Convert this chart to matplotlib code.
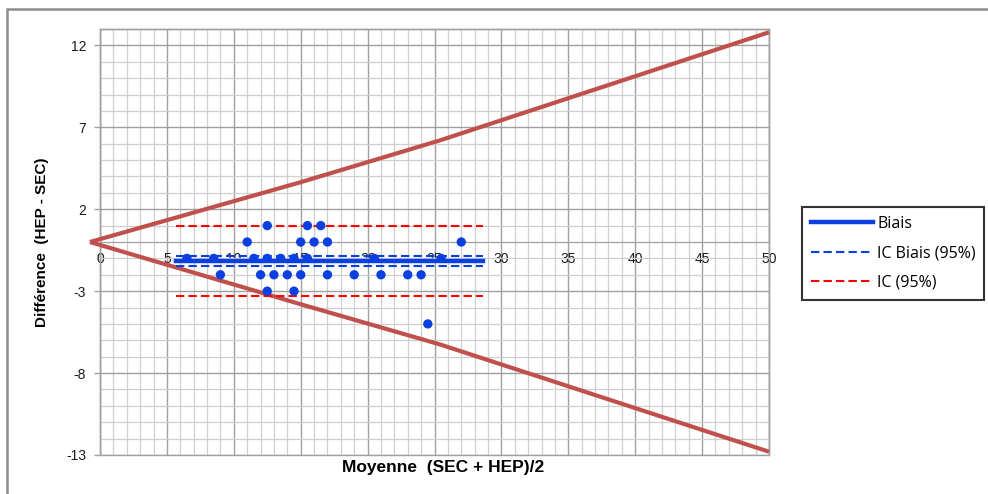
import matplotlib
matplotlib.use("Agg")
import matplotlib.pyplot as plt
from matplotlib.patches import Rectangle
from matplotlib.ticker import MultipleLocator, FixedLocator

plt.rcParams["axes.unicode_minus"] = False

# Bland-Altman data: mean (SEC + HEP)/2 vs difference (HEP - SEC)
moyenne = [12.5, 15.5, 16.5,
           11.0, 15.0, 16.0, 17.0, 27.0,
           6.5, 8.5, 11.5, 12.5, 13.5, 14.5, 15.5, 20.5, 25.5,
           9.0, 12.0, 13.0, 14.0, 15.0, 17.0, 19.0, 21.0, 23.0, 24.0,
           12.5, 14.5,
           24.5]
difference = [1, 1, 1,
              0, 0, 0, 0, 0,
              -1, -1, -1, -1, -1, -1, -1, -1, -1,
              -2, -2, -2, -2, -2, -2, -2, -2, -2, -2,
              -3, -3,
              -5]

# Horizontal reference lines (bias, its CI, limits of agreement)
ref_x = [5.7, 28.6]
biais = -1.16
ic_biais = [-0.85, -1.47]
ic_95 = [0.98, -3.28]

# Funnel lines
funnel_x = [-0.75, 15.0, 25.4, 50.0]
funnel_haut = [0.0, 3.65, 6.2, 12.8]
funnel_bas = [0.0, -3.8, -6.25, -12.8]

y_ticks = [-13, -8, -3, 2, 7, 12]

BLUE = "#0A3FE0"
RED_LINE = "#C0504D"

fig = plt.figure(figsize=(9.88, 4.94), dpi=100)
ax = fig.add_axes([100 / 988, 1 - 455 / 494, 669 / 988, 426 / 494])

ax.set_xlim(0, 50)
ax.set_ylim(-13, 13)

# grid
ax.xaxis.set_major_locator(MultipleLocator(5))
ax.xaxis.set_minor_locator(MultipleLocator(1))
ax.yaxis.set_major_locator(FixedLocator(y_ticks))
ax.yaxis.set_minor_locator(MultipleLocator(1))
ax.grid(which="minor", color="#CFCFCF", linewidth=0.9)
ax.grid(which="major", color="#A0A0A0", linewidth=1.0)
ax.set_axisbelow(True)

for side in ("top", "right", "left"):
    ax.spines[side].set_color("#A0A0A0")
    ax.spines[side].set_linewidth(1.0)
ax.spines["bottom"].set_position(("data", 0))
ax.spines["bottom"].set_color("#A0A0A0")
ax.patch.set_edgecolor("#A0A0A0")
ax.patch.set_linewidth(1.0)

ax.tick_params(axis="x", which="both", length=0, pad=7, labelsize=10, labelcolor="#1A1A1A")
ax.tick_params(axis="y", which="major", length=4, width=1, color="#A0A0A0", pad=6,
               labelsize=10, labelcolor="#1A1A1A", direction="out")
ax.tick_params(axis="y", which="minor", length=0)
for lab in ax.get_xticklabels() + ax.get_yticklabels():
    lab.set_fontfamily("Liberation Sans")

# funnel lines
ax.plot(funnel_x, funnel_haut, color=RED_LINE, linewidth=3, clip_on=False, zorder=3,
        solid_capstyle="butt")
ax.plot(funnel_x, funnel_bas, color=RED_LINE, linewidth=3, clip_on=False, zorder=3,
        solid_capstyle="butt")

# reference lines
l_biais, = ax.plot(ref_x, [biais, biais], color=BLUE, linewidth=3.2, zorder=4, label="Biais")
l_icb = None
for v in ic_biais:
    l_icb, = ax.plot(ref_x, [v, v], color=BLUE, linewidth=1.5, dashes=(4, 2), zorder=4,
                     label="IC Biais (95%)")
l_ic = None
for v in ic_95:
    l_ic, = ax.plot(ref_x, [v, v], color="#FF0000", linewidth=1.5, dashes=(4, 2), zorder=4,
                    label="IC (95%)")

# points
ax.scatter(moyenne, difference, s=45, color=BLUE, edgecolors="none", zorder=5)

# axis labels
ax.set_ylabel("Différence  (HEP - SEC)", fontfamily="Liberation Sans", fontweight="bold",
              fontsize=11, color="#000000", va="center")
ax.yaxis.set_label_coords(-(100 - 42) / 669, 0.5)
ax.set_xlabel("Moyenne  (SEC + HEP)/2", fontfamily="Liberation Sans", fontweight="bold",
              fontsize=12.5, color="#000000", va="center")
ax.xaxis.set_label_coords((443 - 100) / 669, -(467 - 455) / 426)

# legend
leg = fig.legend(handles=[l_biais, l_icb, l_ic], loc="upper left",
                 bbox_to_anchor=(802 / 988, 1 - 207 / 494), borderaxespad=0,
                 frameon=True, fancybox=False, edgecolor="#000000",
                 prop=dict(family="Open Sans", size=11.5), handlelength=3.9,
                 handletextpad=0.25, labelspacing=0.85, borderpad=0.55)
leg.get_frame().set_linewidth(1.5)

# outer chart frame
fig.add_artist(Rectangle((7 / 988, -0.1), 1.2, 1.1 - 9 / 494, transform=fig.transFigure,
                         fill=False, edgecolor="#8C8C8C", linewidth=1.8))

fig.savefig("out.png", dpi=100)
